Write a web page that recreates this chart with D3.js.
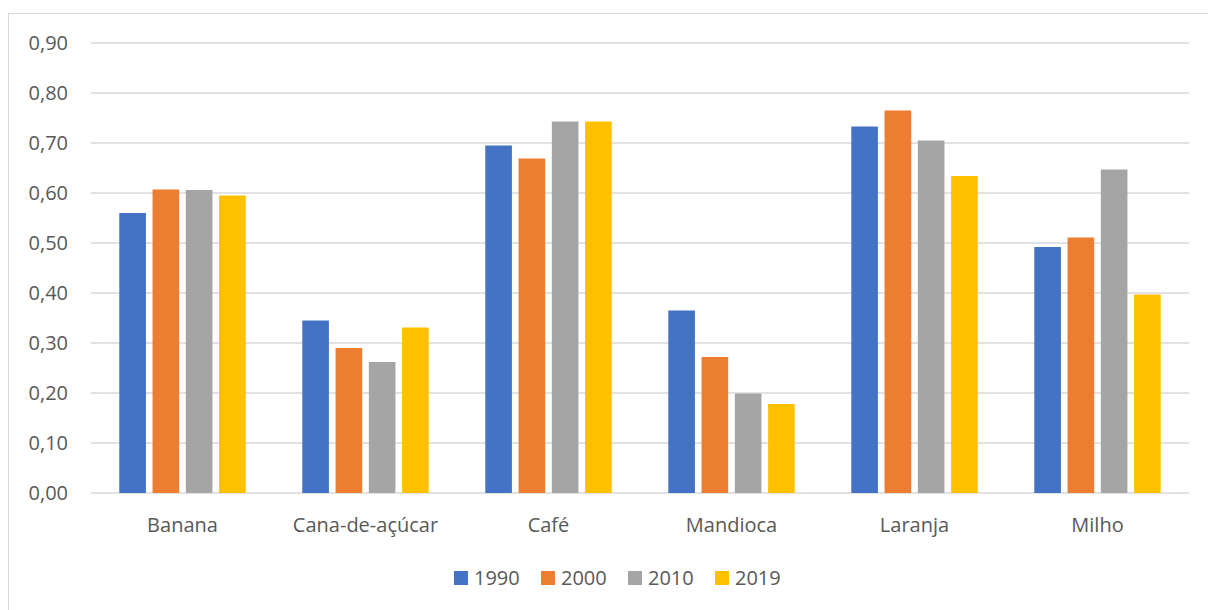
<!DOCTYPE html>
<html>
<head>
<meta charset="utf-8">
<script src="https://cdn.jsdelivr.net/npm/d3@7"></script>
<style>
  body { margin: 0; background: #fff; }
  text { font-family: "Open Sans", sans-serif; fill: #595959; }
</style>
</head>
<body>
<div id="chart"></div>
<script>
var categories = ["Banana", "Cana-de-açúcar", "Café", "Mandioca", "Laranja", "Milho"];
var years = ["1990", "2000", "2010", "2019"];
var v1990 = [0.56, 0.345, 0.695, 0.365, 0.733, 0.492];
var v2000 = [0.607, 0.29, 0.669, 0.272, 0.765, 0.511];
var v2010 = [0.606, 0.262, 0.743, 0.199, 0.705, 0.647];
var v2019 = [0.595, 0.331, 0.743, 0.178, 0.634, 0.397];
var yTicks = [0, 0.1, 0.2, 0.3, 0.4, 0.5, 0.6, 0.7, 0.8, 0.9];
var colors = ["#4472C4", "#ED7D31", "#A5A5A5", "#FFC000"];

(function() {
    var series = [v1990, v2000, v2010, v2019];

    var width = 1208,
        height = 610,
        plotLeft = 91,
        plotRight = 1189,
        plotTop = 43,
        plotBottom = 493;

    var svg = d3.select("#chart").append("svg")
        .attr("width", width)
        .attr("height", height);

    // chart area border
    svg.append("rect")
        .attr("x", 8.5).attr("y", 13.5)
        .attr("width", 1220).attr("height", 620)
        .attr("fill", "none")
        .attr("stroke", "#d9d9d9")
        .attr("stroke-width", 1);

    var y = d3.scaleLinear().domain([0, 0.9]).range([plotBottom, plotTop]);
    var x0 = d3.scaleBand().domain(categories).range([plotLeft, plotRight]).padding(0);
    var x1 = d3.scaleBand().domain(years).range([0, x0.bandwidth()])
        .paddingInner(0.2).paddingOuter(0.85);

    var fmt = function(d) { return d3.format(".2f")(d).replace(".", ","); };

    // gridlines
    svg.append("g").selectAll("line")
        .data(yTicks)
        .enter().append("line")
        .attr("x1", plotLeft).attr("x2", plotRight)
        .attr("y1", function(d) { return y(d); })
        .attr("y2", function(d) { return y(d); })
        .attr("stroke", "#d9d9d9")
        .attr("stroke-width", 1.5);

    // y labels
    svg.append("g").selectAll("text")
        .data(yTicks)
        .enter().append("text")
        .attr("x", 68)
        .attr("y", function(d) { return y(d); })
        .attr("dy", "0.36em")
        .attr("text-anchor", "end")
        .style("font-size", "20px")
        .text(fmt);

    // bars
    var groups = svg.append("g").selectAll("g")
        .data(categories)
        .enter().append("g")
        .attr("transform", function(d) { return "translate(" + x0(d) + ",0)"; });

    groups.selectAll("rect")
        .data(function(c, i) {
            return years.map(function(yr, j) { return {year: yr, value: series[j][i], k: j}; });
        })
        .enter().append("rect")
        .attr("x", function(d) { return x1(d.year); })
        .attr("width", x1.bandwidth())
        .attr("y", function(d) { return y(d.value); })
        .attr("height", function(d) { return plotBottom - y(d.value); })
        .attr("fill", function(d) { return colors[d.k]; });

    // category labels
    svg.append("g").selectAll("text")
        .data(categories)
        .enter().append("text")
        .attr("x", function(d) { return x0(d) + x0.bandwidth() / 2; })
        .attr("y", 532)
        .attr("text-anchor", "middle")
        .style("font-size", "20px")
        .text(function(d) { return d; });

    // legend
    var legend = svg.append("g").selectAll("g")
        .data(years)
        .enter().append("g")
        .attr("transform", function(d, i) { return "translate(" + (454 + i * 87) + ",571)"; });

    legend.append("rect")
        .attr("width", 14).attr("height", 14)
        .attr("fill", function(d, i) { return colors[i]; });

    legend.append("text")
        .attr("x", 20)
        .attr("y", 7)
        .attr("dy", "0.36em")
        .style("font-size", "20px")
        .text(function(d) { return d; });
})();
</script>
</body>
</html>
